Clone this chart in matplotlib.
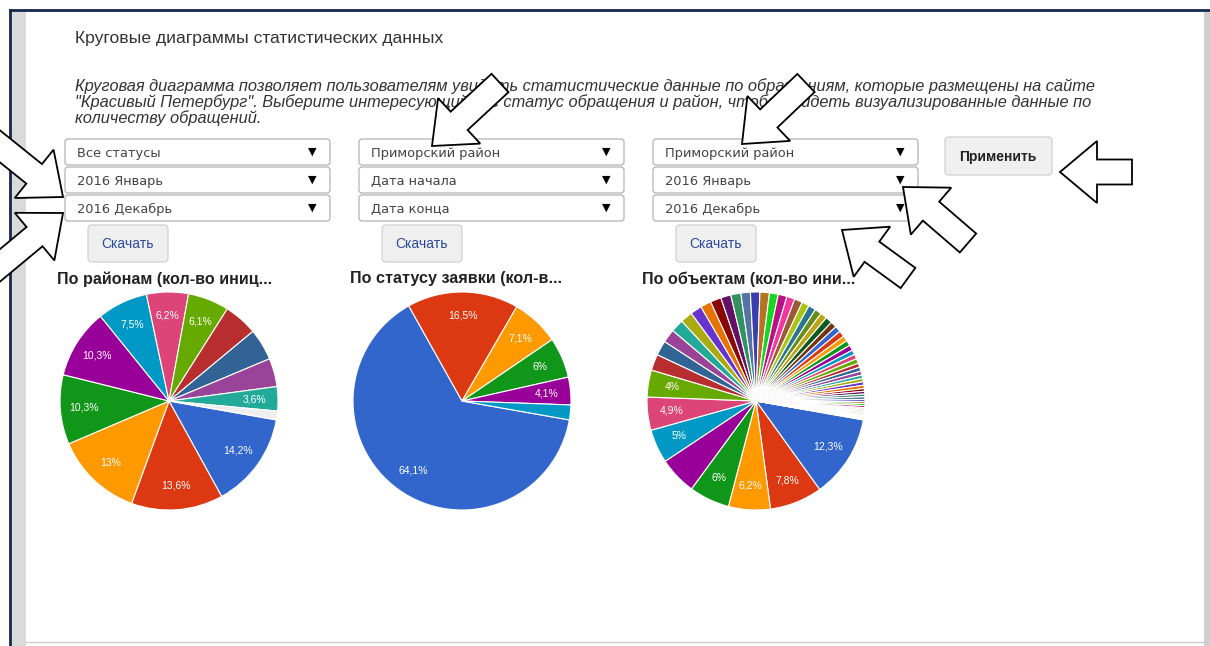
import matplotlib
matplotlib.use('Agg')
import matplotlib.pyplot as plt
from matplotlib.patches import FancyBboxPatch, FancyArrow, Rectangle

plt.rcParams['font.family'] = ['Liberation Sans', 'DejaVu Sans']

# ---------- данные ----------
title_text = "Круговые диаграммы статистических данных"
intro_lines = [
    "Круговая диаграмма позволяет пользователям увидеть статистические данные по обращениям, которые размещены на сайте",
    "\"Красивый Петербург\". Выберите интересующий вас статус обращения и район, чтобы увидеть визуализированные данные по",
    "количеству обращений.",
]
select_texts = [
    ["Все статусы", "2016 Январь", "2016 Декабрь"],
    ["Приморский район", "Дата начала", "Дата конца"],
    ["Приморский район", "2016 Январь", "2016 Декабрь"],
]
download_label = "Скачать"
apply_label = "Применить"
pie_titles = ["По районам (кол-во иниц...", "По статусу заявки (кол-в...", "По объектам (кол-во ини..."]

# по районам
district_values = [14.2, 13.6, 13.0, 10.3, 10.3, 7.5, 6.2, 6.1, 5.0, 4.7, 4.2, 3.6, 1.3]
district_labels = ["14,2%", "13,6%", "13%", "10,3%", "10,3%", "7,5%", "6,2%", "6,1%", "", "", "", "3,6%", ""]

# по статусу
status_values = [64.1, 16.5, 7.1, 6.0, 4.1, 2.2]
status_labels = ["64,1%", "16,5%", "7,1%", "6%", "4,1%", ""]

# по объектам
object_values = [12.3, 7.8, 6.2, 6.0, 5.6, 5.0, 4.9, 4.0,
                 2.4, 2.2, 2.0, 1.9, 1.8, 1.7, 1.6, 1.6, 1.5, 1.5, 1.4, 1.4,
                 1.4, 1.3, 1.3, 1.2, 1.2, 1.1, 1.1, 1.0, 1.0, 1.0, 0.9, 0.9, 0.9,
                 0.8, 0.8, 0.8, 0.7, 0.7, 0.7, 0.6, 0.6, 0.6, 0.5, 0.5, 0.5, 0.5,
                 0.4, 0.4, 0.4, 0.4, 0.3, 0.3, 0.3, 0.3, 0.2, 0.2, 0.2, 0.2, 0.2, 0.2,
                 0.1, 0.1, 0.1, 0.1, 0.1, 0.1]
object_labels = ["12,3%", "7,8%", "6,2%", "6%", "", "5%", "4,9%", "4%"]

google_colors = ["#3366cc", "#dc3912", "#ff9900", "#109618", "#990099", "#0099c6",
                 "#dd4477", "#66aa00", "#b82e2e", "#316395", "#994499", "#22aa99",
                 "#aaaa11", "#6633cc", "#e67300", "#8b0707", "#651067", "#329262",
                 "#5574a6", "#3b3eac", "#b77322", "#16d620", "#b91383", "#f4359e",
                 "#9c5935", "#a9c413", "#2a778d", "#668d1c", "#bea413", "#0c5922",
                 "#743411"]

W, H = 1210, 646
fig = plt.figure(figsize=(W / 100, H / 100), dpi=100)
bg = fig.add_axes([0, 0, 1, 1])
bg.set_xlim(0, W)
bg.set_ylim(H, 0)
bg.axis('off')

# рамка окна
bg.add_patch(Rectangle((12, 10), 14, H, color='#dadada', lw=0))
bg.add_patch(Rectangle((1204, 10), 6, H, color='#cfcfcf', lw=0))
bg.plot([10, W], [10, 10], color='#14284b', lw=2)
bg.plot([10, 10], [10, H], color='#14284b', lw=2)
bg.plot([26, 1204], [642, 642], color='#cccccc', lw=1)

bg.text(75, 38, title_text, fontsize=12.6, color='#333333', va='center')
for i, line in enumerate(intro_lines):
    bg.text(75, 86 + 16 * i, line, style='italic', fontsize=11.8,
            color='#333333', va='center')

# выпадающие списки и кнопки
col_x = [65, 359, 653]
row_y = [139, 167, 195]
for cx, texts in zip(col_x, select_texts):
    for ry, t in zip(row_y, texts):
        bg.add_patch(FancyBboxPatch((cx, ry), 265, 26, boxstyle="round,pad=0,rounding_size=3",
                                    fc='white', ec='#aaaaaa', lw=0.8))
        bg.text(cx + 12, ry + 14, t, family='DejaVu Sans', fontsize=9.4, color='#444444', va='center')
        bg.text(cx + 247, ry + 13, "▼", family='DejaVu Sans', fontsize=8, color='black',
                va='center', ha='center')
    bx = cx + 23
    bg.add_patch(FancyBboxPatch((bx, 225), 80, 37, boxstyle="round,pad=0,rounding_size=4",
                                fc='#efefef', ec='#cccccc', lw=0.8))
    bg.text(bx + 40, 244, download_label, fontsize=10, color='#2b4aa0', ha='center', va='center')

bg.add_patch(FancyBboxPatch((945, 137), 107, 38, boxstyle="round,pad=0,rounding_size=4",
                            fc='#efefef', ec='#cccccc', lw=0.8))
bg.text(998, 157, apply_label, fontsize=10, fontweight='bold', color='#222222', ha='center', va='center')

# стрелки-указатели
arrows = [((-8, 140), (63, 197)), ((-8, 272), (63, 213)), ((500, 83), (432, 146)),
          ((806, 83), (742, 144)), ((1132, 172), (1060, 172)), ((968, 243), (903, 187)),
          ((908, 278), (842, 230))]
for (x0, y0), (x1, y1) in arrows:
    bg.add_patch(FancyArrow(x0, y0, x1 - x0, y1 - y0, width=25, head_width=62, head_length=37,
                            length_includes_head=True, fc='white', ec='black', lw=1.3, zorder=5))

# круговые диаграммы
def pie_axes(cx, cy, r):
    return fig.add_axes([(cx - r) / W, (H - cy - r) / H, 2 * r / W, 2 * r / H])

title_x = [57, 350, 642]
for tx, t in zip(title_x, pie_titles):
    bg.text(tx, 279, t, fontsize=11.6, fontweight='bold', color='#222222', va='center')

pies = [
    (169, district_values, district_labels, google_colors[:12] + ["#eeeeee"]),
    (462, status_values, status_labels, google_colors[:6]),
    (756, object_values, object_labels, [google_colors[i % 31] for i in range(len(object_values))]),
]
for cx, vals, labs, cols in pies:
    ax = pie_axes(cx, 401, 109)
    labs = labs + [""] * (len(vals) - len(labs))
    ax.pie(vals, colors=cols, labels=labs, startangle=-10, counterclock=False,
           labeldistance=0.78, radius=1,
           textprops=dict(color='white', fontsize=7.5, ha='center', va='center'),
           wedgeprops=dict(edgecolor='white', linewidth=0.8))
    ax.set_xlim(-1, 1)
    ax.set_ylim(-1, 1)

fig.savefig('out.png', dpi=100)
